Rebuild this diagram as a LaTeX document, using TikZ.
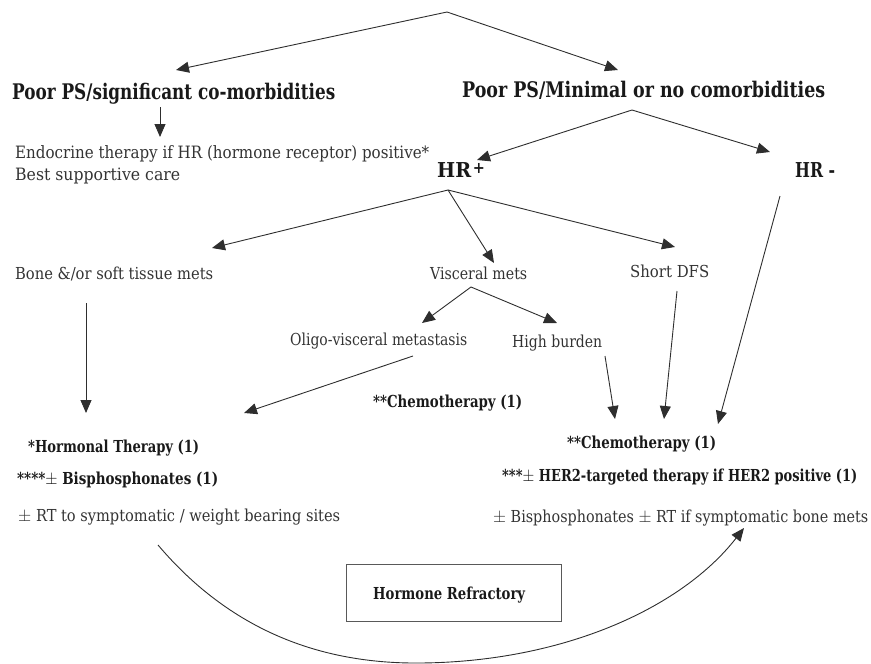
\documentclass[tikz,border=0pt]{standalone}
\usepackage{fontspec}
\setmainfont{DejaVu Serif Condensed}
\usetikzlibrary{arrows.meta}
% size, target width, text : horizontal scaling only
\newcommand{\fw}[3]{\resizebox{#2pt}{\height}{\fontsize{#1}{#1}\selectfont #3}}
\begin{document}
\begin{tikzpicture}[x=1pt,y=-1pt,
  lbl/.style={inner sep=0pt,anchor=base west,text=black!90},
  soft/.style={inner sep=0pt,anchor=base west,text=black!80},
  conn/.style={draw=black!82,line width=0.9pt,-{Triangle[length=13pt,width=11pt]}},
  refbox/.style={draw=black!65,line width=1.3pt,minimum width=215pt,minimum height=57pt,inner sep=0pt}]
\useasboundingbox (0,0) rectangle (871,664);
% texts
\node[lbl] (poorL) at (12,99) {\fw{21.5}{323}{\bfseries Poor PS/significant co-morbidities}};
\node[lbl] (poorR) at (462,97) {\fw{21.5}{363}{\bfseries Poor PS/Minimal or no comorbidities}};
\node[soft] (endo) at (15,158) {\fw{17}{414}{Endocrine therapy if HR (hormone receptor) positive*}};
\node[soft] (bsc) at (15,180) {\fw{17}{165}{Best supportive care}};
\node[lbl] (hrp) at (437,177) {\fw{20.5}{34}{\bfseries HR}\,\raisebox{4pt}{\fontsize{16}{16}\selectfont\bfseries +}};
\node[lbl] (hrm) at (795,177) {\fw{20.5}{40}{\bfseries HR -}};
\node[soft] (bone) at (15,279) {\fw{16.5}{198}{Bone \&/or soft tissue mets}};
\node[soft] (visc) at (430,279) {\fw{16.5}{97}{Visceral mets}};
\node[soft] (dfs) at (630,277) {\fw{16.5}{79}{Short DFS}};
\node[soft] (oligo) at (290,345) {\fw{16.5}{177}{Oligo-visceral metastasis}};
\node[soft] (high) at (512,347) {\fw{16.5}{90}{High burden}};
\node[lbl] (chemoA) at (373,407) {\fw{16.5}{149}{\bfseries **Chemotherapy (1)}};
\node[lbl] (horm) at (28,452) {\fw{16.5}{171}{\bfseries *Hormonal Therapy (1)}};
\node[lbl] (bisA) at (17,484) {\fw{16.5}{201}{\bfseries ****{\mdseries$\pm$} Bisphosphonates (1)}};
\node[soft] (rtA) at (18,521) {\fw{16.5}{322}{$\pm$ RT to symptomatic / weight bearing sites}};
\node[lbl] (chemoB) at (567,448) {\fw{16.5}{149}{\bfseries **Chemotherapy (1)}};
\node[lbl] (her2) at (502,481) {\fw{16.5}{355}{\bfseries ***{\mdseries$\pm$} HER2-targeted therapy if HER2 positive (1)}};
\node[soft] (rtB) at (493,522) {\fw{16.5}{375}{$\pm$ Bisphosphonates $\pm$ RT if symptomatic bone mets}};
\node[refbox] (refr) at (454,593) {};
\node[lbl] (refrt) at (373,599) {\fw{16.5}{152}{\bfseries Hormone Refractory}};
% connector end points
\coordinate (top) at (447,12);
\coordinate (tL) at (176,70);
\coordinate (tR) at (618,70);
\coordinate (pLs) at (160,107);
\coordinate (pLe) at (160,137);
\coordinate (pRs) at (632,110);
\coordinate (hrpT) at (477,160);
\coordinate (hrmT) at (770,152);
\coordinate (hrpB) at (448,190);
\coordinate (boneT) at (212,248);
\coordinate (viscT) at (494,263);
\coordinate (dfsT) at (675,247);
\coordinate (boneB) at (86,303);
\coordinate (hormT) at (86,413);
\coordinate (viscB) at (471,287);
\coordinate (oligoT) at (422,323);
\coordinate (highT) at (557,323);
\coordinate (oligoB) at (413,356);
\coordinate (hormR) at (244,413);
\coordinate (highB) at (605,356);
\coordinate (dfsB) at (677,291);
\coordinate (hrmB) at (780,196);
\coordinate (chA) at (615,419);
\coordinate (chB) at (664,419);
\coordinate (chC) at (718,424);
\coordinate (rtAB) at (158,545);
\coordinate (low) at (420,663);
\coordinate (rtBB) at (744,528);
% connectors
\draw[conn] (top) -- (tL);
\draw[conn] (top) -- (tR);
\draw[conn] (pLs) -- (pLe);
\draw[conn] (pRs) -- (hrpT);
\draw[conn] (pRs) -- (hrmT);
\draw[conn] (hrpB) -- (boneT);
\draw[conn] (hrpB) -- (viscT);
\draw[conn] (hrpB) -- (dfsT);
\draw[conn] (boneB) -- (hormT);
\draw[conn] (viscB) -- (oligoT);
\draw[conn] (viscB) -- (highT);
\draw[conn] (oligoB) -- (hormR);
\draw[conn] (highB) -- (chA);
\draw[conn] (dfsB) -- (chB);
\draw[conn] (hrmB) -- (chC);
\draw[conn] (rtAB) .. controls (230,630) and (320,664) .. (low) .. controls (560,662) and (680,610) .. (rtBB);
\end{tikzpicture}
\end{document}
